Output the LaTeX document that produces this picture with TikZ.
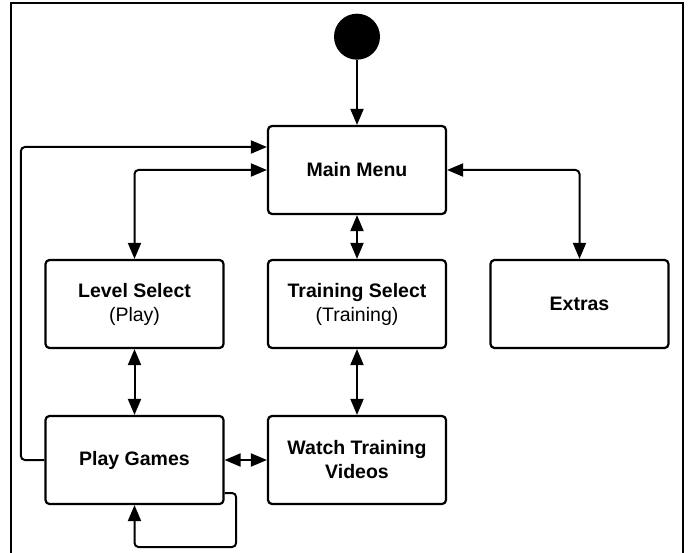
\documentclass[tikz,border=0pt]{standalone}
\usepackage{fontspec}
\setmainfont{Liberation Sans}
\usetikzlibrary{arrows.meta}

\begin{document}
\begin{tikzpicture}[x=1pt,y=-1pt,>={Triangle[length=16pt,width=13pt]},
        state/.style={rectangle,draw,line width=2.2pt,rounded corners=4pt,minimum width=178pt,minimum height=88pt,align=center,font=\fontsize{19.5}{24}\selectfont},
        link/.style={line width=2pt,rounded corners=4pt}]
        \useasboundingbox (0,0) rectangle (688,553);
        \draw[line width=2pt] (11,553) -- (11,3.5) -- (683,3.5) -- (683,553);

        \node [circle,fill=black,minimum size=46pt,inner sep=0pt] (0) at (357, 36.7) {};
        \node [state] (1) at (357, 170) {\textbf{Main Menu}};
        \node [state] (2) at (134.5, 304) {\textbf{Level Select}\\(Play)};
        \node [state] (3) at (357, 304) {\textbf{Training Select}\\(Training)};
        \node [state] (4) at (579.5, 304) {\textbf{Extras}};
        \node [state] (5) at (134.5, 460) {\textbf{Play Games}};
        \node [state] (6) at (357, 460) {\textbf{Watch Training}\\\textbf{Videos}};

        \draw[->,link] (0) to (1);
        \draw[<->,link] (1.west) -| (2.north);
        \draw[<->,link] (1.east) -| (4.north);
        \draw[<->,link] (1) to (3);
        \draw[<->,link] (2) to (5);
        \draw[<->,link] (3) to (6);
        \draw[<->,link] (5) to (6);
        \draw[->,link] (5.west) -- ++(-23.5,0) |- ([yshift=23pt]1.west);
        \draw[->,link] ([yshift=-33pt]5.east) -| ++(11.5,54) -| (5.south);
        \end{tikzpicture}
\end{document}
